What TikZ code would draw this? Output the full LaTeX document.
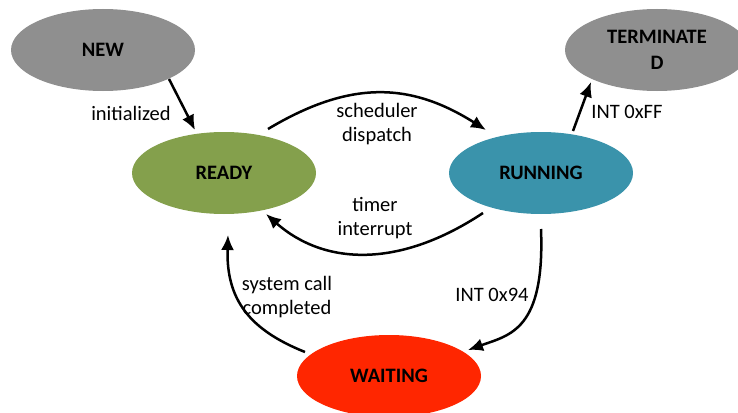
\documentclass[tikz,border=0pt]{standalone}
\usepackage{fontspec}
\setmainfont{Carlito}
\usetikzlibrary{shapes.geometric,arrows.meta}

\definecolor{stgray}{HTML}{8F8F8F}
\definecolor{stgreen}{HTML}{84A04C}
\definecolor{stteal}{HTML}{3A93AB}
\definecolor{stred}{HTML}{FF2600}

\tikzset{
  state/.style={ellipse, minimum width=184pt, minimum height=82pt, inner sep=0pt,
    font=\fontsize{20.5}{24}\selectfont\bfseries, align=center},
  trans/.style={line width=2.5pt, -{Latex[length=15pt,width=13pt]}},
  lbl/.style={font=\fontsize{20.5}{24}\selectfont, align=center, inner sep=0pt}
}

\begin{document}
\begin{tikzpicture}[x=1pt,y=-1pt]
  \useasboundingbox (0,0) rectangle (738,412);
  \begin{scope}
    \clip (0,0) rectangle (738,412);
    % states
    \node[state, fill=stgray]  (new)  at (103,50)  {NEW};
    \node[state, fill=stgray]  (term) at (657,50)  {TERMINATE\\[2pt]D};
    \node[state, fill=stgreen] (ready) at (224,173) {READY};
    \node[state, fill=stteal]  (run)  at (541,173) {RUNNING};
    \node[state, fill=stred]   (wait) at (389,376) {WAITING};
  \end{scope}

  % connector end points, just outside each ellipse
  \coordinate (newOut)   at ([shift={(66,29)}]new.center);
  \coordinate (readyIn)  at ([shift={(-29,-43)}]ready.center);
  \coordinate (readyOut) at ([shift={(44,-44)}]ready.center);
  \coordinate (runIn)    at ([shift={(-55,-43)}]run.center);
  \coordinate (runOutT)  at ([shift={(32,-42)}]run.center);
  \coordinate (termIn)   at ([shift={(-66,32)}]term.center);
  \coordinate (runOutR)  at ([shift={(-58,40)}]run.center);
  \coordinate (readyInR) at ([shift={(42,41)}]ready.center);
  \coordinate (runOutW)  at ([shift={(0,56)}]run.center);
  \coordinate (waitIn)   at ([shift={(79,-26)}]wait.center);
  \coordinate (waitOut)  at ([shift={(-84,-24)}]wait.center);
  \coordinate (readyInW) at ([shift={(4,62)}]ready.center);

  % transitions
  \draw[trans] (newOut) -- (readyIn);
  \draw[trans] (readyOut) .. controls (350,80) and (410,82) .. (runIn);
  \draw[trans] (runOutT) -- (termIn);
  \draw[trans] (runOutR) .. controls (400,268) and (325,266) .. (readyInR);
  \draw[trans] (runOutW) .. controls (545,330) and (510,335) .. (waitIn);
  \draw[trans] (waitOut) .. controls (250,330) and (226,300) .. (readyInW);

  % transition labels
  \node[lbl] (lInit)  at (131,113) {initialized};
  \node[lbl] (lDisp)  at (377,124) {scheduler\\dispatch};
  \node[lbl] (lFF)    at (627,112) {INT 0xFF};
  \node[lbl] (lTimer) at (375,218) {timer\\interrupt};
  \node[lbl] (l94)    at (492,295) {INT 0x94};
  \node[lbl] (lSys)   at (287,297) {system call\\completed};
\end{tikzpicture}
\end{document}
